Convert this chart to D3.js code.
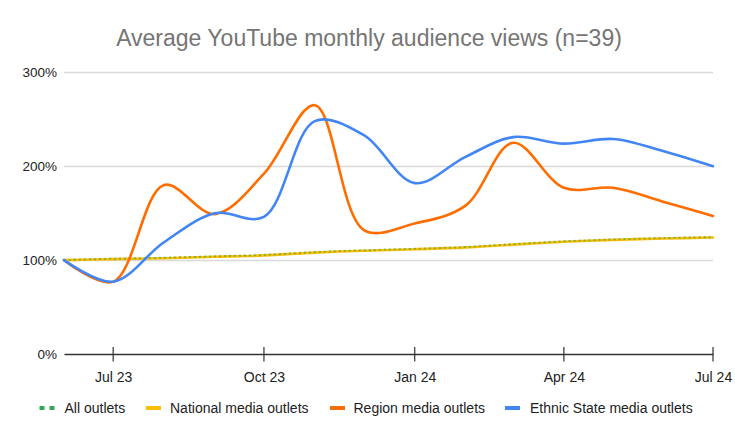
<!DOCTYPE html>
<html><head><meta charset="utf-8">
<script src="https://cdn.jsdelivr.net/npm/d3@7"></script>
<style>body{margin:0;background:#fff;}svg{display:block;font-family:"Liberation Sans",Arial,sans-serif;}</style>
</head><body><svg id="c" width="735" height="438"></svg>
<script>
const months = ["2023-06","2023-07","2023-08","2023-09","2023-10","2023-11","2023-12","2024-01","2024-02","2024-03","2024-04","2024-05","2024-06","2024-07"];
const allOutlets = [100,101.5,102.5,104,105.5,108.5,110.5,112,114,117,120,122,123.5,124.5];
const national   = [100,101,102,103.5,105,108,110,111.5,113.5,116.5,119.5,121.5,123,124];
const region     = [100,77,180,149,192,265,132,139,158,225,177,177,162,147];
const ethnic     = [100,77,119,150,146,248,233,182,210,231,224,229,216,200];
const seriesNames = ["All outlets","National media outlets","Region media outlets","Ethnic State media outlets"];
const yTicks = [0,100,200,300];
const xTickLabels = ["Jul 23","Oct 23","Jan 24","Apr 24","Jul 24"];
const xTickDates = ["2023-07","2023-10","2024-01","2024-04","2024-07"];

const parse = d3.timeParse("%Y-%m");
const dates = months.map(parse);
const svg = d3.select("#c");
const x = d3.scaleTime().domain([dates[0], dates[dates.length-1]]).range([64, 713]);
const y = d3.scaleLinear().domain([0,300]).range([354, 72.3]);

svg.append("text").attr("x", 369).attr("y", 46).attr("text-anchor","middle")
  .attr("fill","#757575").attr("font-size", 23).text("Average YouTube monthly audience views (n=39)");

// gridlines
svg.append("g").selectAll("line").data(yTicks.filter(d=>d>0)).join("line")
  .attr("x1",64).attr("x2",713).attr("y1",d=>Math.round(y(d))+0.5).attr("y2",d=>Math.round(y(d))+0.5)
  .attr("stroke","#d9d9d9").attr("stroke-width",1.3);
svg.append("g").selectAll("text").data(yTicks).join("text")
  .attr("x",57).attr("y",d=>y(d)+5).attr("text-anchor","end").attr("font-size",13.5).attr("fill","#222")
  .text(d=>d+"%");

const colors = ["#34A853","#FBBC04","#FF6D01","#4285F4"];
const data = [allOutlets, national, region, ethnic];
const line = d3.line().x((d,i)=>x(dates[i])).y(d=>y(d)).curve(d3.curveCatmullRom.alpha(0.5));

const order = [1,0,2,3];
order.forEach(k=>{
  const p = svg.append("path").datum(data[k]).attr("d", line).attr("fill","none")
    .attr("stroke", colors[k]).attr("stroke-width", k===0?2:2.6).attr("stroke-linejoin","round").attr("stroke-linecap","round");
  if(k===0) p.attr("stroke-dasharray","2,3").attr("stroke-linecap","butt").attr("opacity",0.6);
});

// x axis
const xAxis = d3.axisBottom(x).tickValues(xTickDates.map(parse)).tickFormat((d,i)=>xTickLabels[i]).tickSize(0);
const gx = svg.append("g").attr("transform","translate(0,354)").call(xAxis);
gx.select(".domain").attr("stroke","#333").attr("stroke-width",1.3);
gx.selectAll("text").attr("font-size",14).attr("fill","#222").attr("dy",null).attr("y",28).attr("font-family","Liberation Sans, Arial, sans-serif");
svg.append("g").selectAll("line").data(xTickDates.map(parse)).join("line")
  .attr("x1",d=>x(d)).attr("x2",d=>x(d)).attr("y1",347).attr("y2",361.5).attr("stroke","#333").attr("stroke-width",1.2);

// legend
const legX = [39.5,146,330,505];
const legTextX = [64.5,170,353.5,530];
const lg = svg.append("g");
seriesNames.forEach((n,i)=>{
  if(i===0){
    lg.append("rect").attr("x",legX[i]).attr("y",406).attr("width",5).attr("height",4).attr("fill",colors[i]);
    lg.append("rect").attr("x",legX[i]+10).attr("y",406).attr("width",5).attr("height",4).attr("fill",colors[i]);
  } else {
    lg.append("rect").attr("x",legX[i]).attr("y",406).attr("width",15).attr("height",4).attr("fill",colors[i]);
  }
  lg.append("text").attr("x",legTextX[i]).attr("y",412.5).attr("font-size",14).attr("fill","#222").text(n);
});
</script></body></html>
